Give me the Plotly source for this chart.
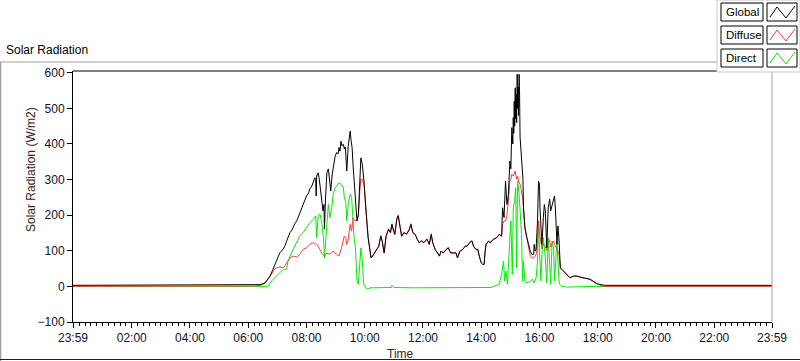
import plotly.graph_objects as go

# ---------------- data (minutes after midnight; -1 = 23:59 of previous day) ----------------
GLOBAL_T = [-1, 360, 374, 384, 394, 401, 405, 410, 415, 420, 425, 432, 436, 439, 446, 450, 453, 456, 460, 463,
            466, 470, 473, 476, 480, 484, 487, 491, 494, 497, 499, 500, 501, 504, 506, 508, 511, 514, 516, 517,
            519, 522, 525, 528, 530, 533, 537, 539, 542, 545, 547, 549, 551, 553, 556, 558, 560, 563, 566, 568,
            570, 572, 574, 576, 578, 581, 584, 587, 590, 592, 595, 599, 602, 605, 607, 611, 613, 616, 620, 625,
            629, 633, 636, 640, 644, 649, 653, 656, 659, 662, 666, 669, 673, 676, 681, 686, 692, 695, 699, 704,
            708, 712, 717, 722, 728, 733, 737, 740, 745, 750, 754, 757, 762, 768, 772, 777, 783, 788, 791, 796,
            802, 807, 811, 816, 821, 824, 829, 833, 836, 840, 843, 846, 848, 850, 855, 858, 865, 872, 877, 882,
            884, 887, 890, 893, 896, 899, 901, 903, 905, 906, 907, 908, 909, 910, 911, 912, 913, 914, 915, 916,
            917, 918, 919, 920, 922, 924, 926, 927, 930, 934, 937, 941, 944, 948, 949, 951, 953, 956, 958, 960,
            961, 963, 965, 968, 970, 972, 975, 978, 981, 983, 986, 989, 991, 993, 996, 998, 1000, 1003, 1006, 1009,
            1016, 1023, 1030, 1037, 1044, 1051, 1058, 1064, 1070, 1075, 1078, 1082, 1089, 1095, 1439]
GLOBAL_V = [3, 3, 4, 5, 9, 20, 29, 45, 62, 78, 94, 105, 115, 127, 151, 158, 170, 176, 184, 195,
            203, 215, 226, 240, 254, 262, 274, 282, 291, 305, 300, 254, 310, 319, 305, 277, 249, 212, 230, 161,
            240, 319, 330, 287, 268, 315, 352, 365, 376, 372, 390, 380, 408, 395, 399, 386, 392, 324, 394, 410,
            436, 408, 390, 340, 296, 230, 184, 203, 277, 361, 343, 287, 221, 165, 137, 99, 80, 85, 94, 108,
            113, 141, 127, 94, 141, 160, 151, 174, 155, 146, 188, 198, 165, 141, 151, 146, 160, 174, 151, 146,
            132, 123, 127, 123, 132, 118, 146, 123, 104, 94, 85, 99, 94, 104, 108, 94, 94, 94, 80, 99,
            104, 113, 113, 123, 127, 113, 104, 104, 85, 66, 62, 62, 99, 118, 127, 123, 132, 137, 146, 141,
            221, 193, 296, 230, 259, 352, 330, 446, 400, 474, 430, 520, 450, 558, 470, 540, 460, 596, 500, 560,
            480, 596, 540, 420, 380, 352, 300, 221, 165, 137, 118, 99, 90, 90, 118, 99, 104, 184, 296, 287,
            220, 155, 118, 193, 230, 212, 108, 221, 245, 212, 230, 249, 254, 212, 118, 170, 137, 52, 48, 43,
            34, 24, 29, 29, 26, 24, 20, 20, 15, 10, 8, 6, 4, 3, 3]

DIFFUSE_T = [-1, 360, 374, 384, 394, 401, 405, 410, 415, 420, 425, 432, 436, 439, 446, 453, 460, 466, 473, 480,
             487, 494, 501, 506, 511, 517, 522, 528, 535, 542, 547, 552, 556, 558, 561, 563, 566, 568, 570, 573,
             576, 580, 584, 587, 588, 590, 592, 595, 599, 602, 605, 607, 611, 613, 616, 620, 625, 629, 633, 636,
             640, 644, 649, 653, 656, 659, 662, 666, 669, 673, 676, 681, 686, 692, 695, 699, 704, 708, 712, 717,
             722, 728, 733, 737, 740, 745, 750, 754, 757, 762, 768, 772, 777, 783, 788, 791, 796, 802, 807, 811,
             816, 821, 824, 829, 833, 836, 840, 843, 846, 848, 850, 855, 858, 865, 872, 877, 882, 884, 887, 890,
             893, 896, 899, 901, 903, 906, 908, 910, 913, 915, 917, 920, 922, 924, 926, 927, 930, 934, 937, 941,
             944, 948, 951, 953, 956, 958, 960, 963, 965, 968, 972, 975, 978, 981, 983, 986, 989, 991, 993, 996,
             998, 1000, 1003, 1006, 1009, 1016, 1023, 1030, 1037, 1044, 1051, 1058, 1064, 1070, 1075, 1078, 1082,
             1089, 1095, 1439]
DIFFUSE_V = [0, 0, 1, 3, 8, 20, 29, 42, 50, 52, 55, 52, 58, 66, 80, 85, 82, 90, 104, 108,
             118, 123, 118, 108, 94, 85, 94, 90, 99, 90, 85, 108, 130, 141, 137, 118, 130, 146, 174, 155,
             193, 184, 184, 200, 230, 270, 301, 300, 282, 221, 165, 137, 99, 80, 85, 94, 108, 113, 143, 127,
             94, 141, 162, 151, 176, 155, 146, 190, 201, 165, 141, 153, 146, 162, 176, 151, 146, 134, 123, 129,
             123, 134, 118, 148, 123, 104, 94, 85, 99, 94, 104, 110, 94, 94, 94, 80, 99, 104, 113, 113,
             123, 129, 113, 104, 104, 85, 66, 62, 62, 99, 118, 127, 123, 132, 137, 146, 141, 175, 184, 184,
             200, 240, 296, 300, 315, 310, 318, 324, 301, 310, 296, 287, 275, 259, 240, 221, 165, 137, 118, 85,
             80, 80, 85, 90, 120, 184, 150, 115, 105, 118, 112, 100, 125, 130, 110, 120, 128, 118, 112, 100,
             95, 92, 52, 48, 43, 34, 24, 29, 29, 26, 24, 20, 20, 15, 10, 8, 6,
             1, 0, 0]

DIRECT_T = [-1, 401, 408, 415, 425, 432, 439, 442, 449, 456, 463, 466, 473, 480, 487, 494, 499, 501, 504, 506,
            508, 511, 515, 517, 519, 522, 525, 528, 532, 535, 539, 542, 547, 551, 556, 558, 561, 563, 566, 570,
            573, 576, 578, 581, 584, 587, 590, 592, 595, 598, 600, 604, 611, 650, 655, 656, 660, 700, 760, 800,
            838, 860, 877, 882, 886, 888, 891, 894, 898, 901, 904, 906, 909, 911, 913, 915, 918, 920, 923, 925,
            927, 930, 934, 941, 944, 946, 949, 953, 956, 958, 960, 963, 965, 968, 972, 975, 978, 981, 983, 986,
            989, 991, 993, 996, 999, 1001, 1006, 1016, 1078, 1439]
DIRECT_V = [0, 0, 15, 24, 38, 48, 48, 71, 94, 113, 132, 141, 151, 165, 179, 188, 198, 137, 198, 203,
            202, 184, 137, 80, 118, 202, 230, 193, 221, 259, 277, 282, 291, 287, 277, 249, 235, 184, 230, 259,
            249, 184, 137, 108, 15, 6, 94, 108, 71, 6, 0, -8, -4, -4, -3, 3, -3, -4, -4, -4,
            -4, -3, 6, 34, 71, 15, 43, 6, 108, 184, 34, 221, 240, 277, 52, 296, 259, 202, 146, 15,
            71, 15, 10, 15, 18, 20, 10, 24, 71, 184, 99, 15, 90, 137, 80, 10, 137, 62, 6, 127,
            108, 15, 62, 127, 43, 6, 0, -2, 0, 0]

X_TICK_VALUES = [-1, 120, 240, 360, 480, 600, 720, 840, 960, 1080, 1200, 1320, 1439]
X_TICK_LABELS = ["23:59", "02:00", "04:00", "06:00", "08:00", "10:00", "12:00",
                 "14:00", "16:00", "18:00", "20:00", "22:00", "23:59"]
Y_TICK_VALUES = [-100, 0, 100, 200, 300, 400, 500, 600]
SERIES_NAMES = ["Global", "Diffuse", "Direct"]
SERIES_COLORS = ["#000000", "#ff3b3b", "#00ee00"]

# ---------------- layout geometry (pixels) ----------------
W, H = 800, 361
ML, MR, MT, MB = 73, 28, 71, 39
PW, PH = W - ML - MR, H - MT - MB


def px(x):
    return (x - ML) / PW


def py(y):
    return (H - MB - y) / PH


FONT = "Liberation Sans, Arial, sans-serif"

fig = go.Figure()
order = [2, 1, 0]
data = {0: (GLOBAL_T, GLOBAL_V), 1: (DIFFUSE_T, DIFFUSE_V), 2: (DIRECT_T, DIRECT_V)}
for i in order:
    t, v = data[i]
    fig.add_trace(go.Scatter(x=t, y=v, mode="lines", name=SERIES_NAMES[i],
                             line=dict(color=SERIES_COLORS[i], width=1), showlegend=False,
                             hoverinfo="skip"))

shapes = []
# frame lines around the graph control
shapes.append(dict(type="line", xref="paper", yref="paper", x0=px(0), x1=px(717), y0=py(62), y1=py(62),
                   line=dict(color="#a0a0a0", width=1)))
shapes.append(dict(type="line", xref="paper", yref="paper", x0=px(0.5), x1=px(0.5), y0=py(62), y1=py(361),
                   line=dict(color="#a0a0a0", width=1.5)))
shapes.append(dict(type="line", xref="paper", yref="paper", x0=px(0), x1=px(800), y0=py(359.5), y1=py(359.5),
                   line=dict(color="#202020", width=1)))
# plot area top / right borders
shapes.append(dict(type="line", xref="paper", yref="paper", x0=0, x1=1, y0=1, y1=1,
                   line=dict(color="#000000", width=1)))
shapes.append(dict(type="line", xref="paper", yref="paper", x0=1, x1=1, y0=0, y1=1,
                   line=dict(color="#a0a0a0", width=1)))
# legend panel
shapes.append(dict(type="rect", xref="paper", yref="paper", x0=px(717), x1=px(800), y0=py(72), y1=py(0),
                   fillcolor="white", line=dict(color="#c8c8c8", width=1)))
annotations = []
rows = [(3, 21), (26, 44), (49, 67)]
for i, (top, bot) in enumerate(rows):
    shapes.append(dict(type="rect", xref="paper", yref="paper", x0=px(721), x1=px(763), y0=py(bot), y1=py(top),
                       fillcolor="white", line=dict(color="#000000", width=1)))
    shapes.append(dict(type="rect", xref="paper", yref="paper", x0=px(767), x1=px(797), y0=py(bot), y1=py(top),
                       fillcolor="white", line=dict(color="#000000", width=1)))
    pts = [(770, bot - 4), (777, top + 4), (786, bot - 3), (795, top + 3)]
    path = "M " + " L ".join(f"{px(a)},{py(b)}" for a, b in pts)
    shapes.append(dict(type="path", xref="paper", yref="paper", path=path,
                       line=dict(color=SERIES_COLORS[i], width=1)))
    annotations.append(dict(xref="paper", yref="paper", x=px(724), y=py((top + bot) / 2), text=SERIES_NAMES[i],
                            showarrow=False, xanchor="left", yanchor="middle",
                            font=dict(family=FONT, size=11.5, color="#000000")))

annotations.append(dict(xref="paper", yref="paper", x=px(4), y=py(50), text="Solar Radiation",
                        showarrow=False, xanchor="left", yanchor="middle",
                        font=dict(family=FONT, size=12, color="#000000")))
annotations.append(dict(xref="paper", yref="paper", x=px(31), y=py(170), text="Solar Radiation (W/m2)",
                        showarrow=False, textangle=-90, xanchor="center", yanchor="middle",
                        font=dict(family=FONT, size=12, color="#3a2010")))
annotations.append(dict(xref="paper", yref="paper", x=px(400), y=py(354), text="Time",
                        showarrow=False, xanchor="center", yanchor="middle",
                        font=dict(family=FONT, size=12, color="#3a2010")))

fig.update_layout(
    width=W, height=H,
    margin=dict(l=ML, r=MR, t=MT, b=MB, pad=0),
    paper_bgcolor="white", plot_bgcolor="white",
    font=dict(family=FONT, size=12, color="#101030"),
    shapes=shapes, annotations=annotations,
    xaxis=dict(range=[-1, 1439], tickmode="array", tickvals=X_TICK_VALUES, ticktext=X_TICK_LABELS,
               ticks="outside", ticklen=5, tickcolor="#000000", tickwidth=1,
               showline=True, linecolor="#000000", linewidth=1, showgrid=False, zeroline=False,
               minor=dict(ticks="outside", ticklen=3, tickcolor="#000000", dtick=12, tick0=0, showgrid=False),
               tickfont=dict(family=FONT, size=12, color="#101030")),
    yaxis=dict(range=[-100, 605], tickmode="array", tickvals=Y_TICK_VALUES,
               ticks="outside", ticklen=5, tickcolor="#000000", tickwidth=1,
               showline=True, linecolor="#000000", linewidth=1, showgrid=False, zeroline=False,
               tickfont=dict(family=FONT, size=12, color="#101030")),
)

fig.write_html("out.html", config={"displayModeBar": False},
               post_script="document.body.style.margin='0';document.body.style.overflow='hidden';")
